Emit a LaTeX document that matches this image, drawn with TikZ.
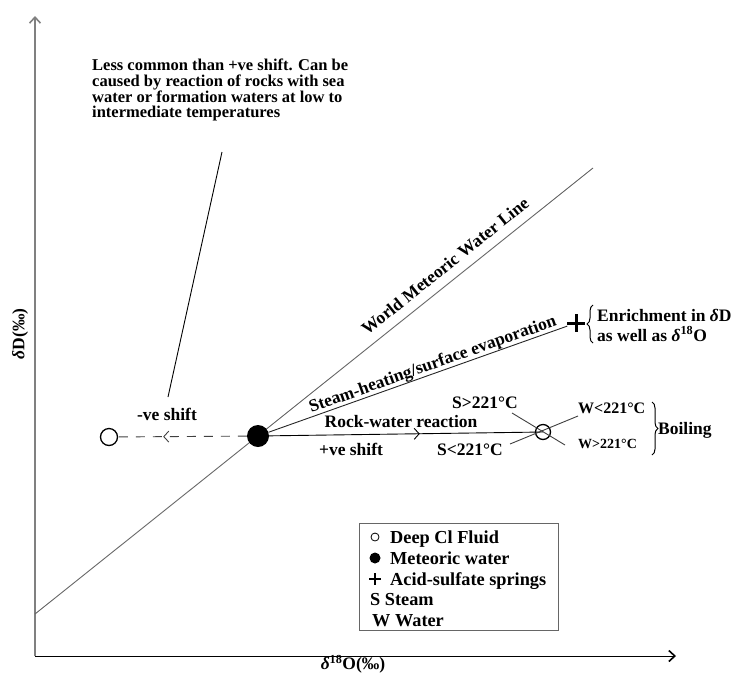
\documentclass[tikz,border=0pt]{standalone}
\usepackage{fontspec}
\setmainfont{Liberation Serif}
\usetikzlibrary{arrows.meta,decorations.markings,decorations.pathreplacing}
\begin{document}
\begin{tikzpicture}[x=1pt,y=-1pt,
  lbl/.style={font=\fontsize{17.5}{19}\selectfont\bfseries, inner sep=0pt},
  ann/.style={font=\fontsize{16.5}{15.7}\selectfont\bfseries, inner sep=0pt, align=left},
  leg/.style={font=\fontsize{18.3}{20}\selectfont\bfseries, inner sep=0pt},
  ln/.style={draw=black!75, line width=0.9pt},
  axtip/.style={-{Straight Barb[length=6pt,width=11pt,line width=1.6pt]}},
  midarrow/.style={postaction={decorate, decoration={markings, mark=at position #1 with {\arrow[solid, line width=0.9pt]{Straight Barb[length=5pt,width=11pt]}}}}},
  bracestyle/.style={decorate, decoration={brace, amplitude=6pt}, line width=1pt},
]
\useasboundingbox (0,0) rectangle (741,673);

% axes
\coordinate (o) at (35,656);
\coordinate (ytip) at (35,16);
\coordinate (xtip) at (676,656);
\draw[draw=black!50, line width=1.3pt, axtip] (o) -- (ytip);
\draw[line width=1pt, axtip] (o) -- (xtip);
\node[lbl, rotate=90] (ylab) at (20,334) {\textit{δ}D(‰)};
\node[lbl] (xlab) at (353,664) {\textit{δ}\textsuperscript{18}O(‰)};

% World Meteoric Water Line
\coordinate (wa) at (35,614);
\coordinate (wb) at (593,168);
\draw[ln, draw=black!60] (wa) -- (wb);
\node[lbl, rotate=38.6] (wlab) at (445,266) {World Meteoric Water Line};

% points
\node[circle, fill=black, minimum size=22pt, inner sep=0pt] (met) at (258,436) {};
\node[circle, draw, line width=1.3pt, fill=white, minimum size=17pt, inner sep=0pt] (cl) at (109,437) {};
\node[circle, draw, line width=1.3pt, minimum size=15pt, inner sep=0pt] (bo) at (543,432) {};
\node[minimum size=17pt, inner sep=0pt] (acid) at (576,323) {};
\draw[line width=3pt] (acid.west) -- (acid.east) (acid.north) -- (acid.south);

% connectors
\draw[ln, dashed, dash pattern=on 9pt off 8pt, midarrow=0.65] (met) -- (cl);
\draw[ln, draw=black, midarrow=0.55] (met) -- (bo.center);
\draw[ln, draw=black!85] (met) -- (acid);

% boiling cross
\coordinate (s1) at (512,413);
\coordinate (w1) at (565,445);
\coordinate (s2) at (510,444);
\coordinate (w2) at (578,416);
\draw[ln] (s1) -- (w1);
\draw[ln] (s2) -- (w2);

% labels
\node[lbl, rotate=19.6] (slab) at (433,365) {Steam-heating/surface evaporation};
\node[lbl, anchor=base] (rw) at (401,427) {Rock-water reaction};
\node[lbl, anchor=base] (pv) at (351,455) {+ve shift};
\node[lbl, anchor=base] (nv) at (167,420) {-ve shift};
\node[lbl, anchor=base] (sg) at (485,408) {S>221°C};
\node[lbl, anchor=base] (sl) at (470,455) {S<221°C};
\node[lbl, anchor=base west, font=\fontsize{16}{18}\selectfont\bfseries] (wl) at (578,413) {W<221°C};
\node[lbl, anchor=base west, font=\fontsize{14}{16}\selectfont\bfseries] (wg) at (578,448) {W>221°C};

% braces
\coordinate (b1a) at (652,402);
\coordinate (b1b) at (652,455);
\draw[bracestyle] (b1a) -- (b1b);
\node[lbl, anchor=base west] (boil) at (658,434) {Boiling};
\coordinate (b2a) at (593,343);
\coordinate (b2b) at (593,305);
\draw[bracestyle] (b2a) -- (b2b);
\node[lbl, anchor=base west] (en1) at (597,321) {Enrichment in \textit{δ}D};
\node[lbl, anchor=base west] (en2) at (597,341) {as well as \textit{δ}\textsuperscript{18}O};

% annotation
\node[ann, anchor=north west] (ann) at (92,59) {Less common than +ve shift. Can be\\caused by reaction of rocks with sea\\water or formation waters at low to\\intermediate temperatures};
\coordinate (la) at (222,152);
\coordinate (lb) at (168,397);
\draw[ln, draw=black] (la) -- (lb);

% legend
\node[draw=black!60, line width=0.9pt, minimum width=199pt, minimum height=107pt, inner sep=0pt, anchor=north west] (legbox) at (359,523) {};
\node[circle, draw, line width=0.8pt, minimum size=8pt, inner sep=0pt] (l1) at (375,537) {};
\node[leg, anchor=base west] (t1) at (390,543) {Deep Cl Fluid};
\node[circle, fill=black, minimum size=11pt, inner sep=0pt] (l2) at (375,558) {};
\node[leg, anchor=base west] (t2) at (390,564) {Meteoric water};
\node[minimum size=11pt, inner sep=0pt] (l3) at (375,579) {};
\draw[line width=2.4pt] (l3.west) -- (l3.east) (l3.north) -- (l3.south);
\node[leg, anchor=base west] (t3) at (390,585) {Acid-sulfate springs};
\node[leg, anchor=base west] (t4) at (370,605) {S Steam};
\node[leg, anchor=base west] (t5) at (372,626) {W Water};
\end{tikzpicture}
\end{document}
